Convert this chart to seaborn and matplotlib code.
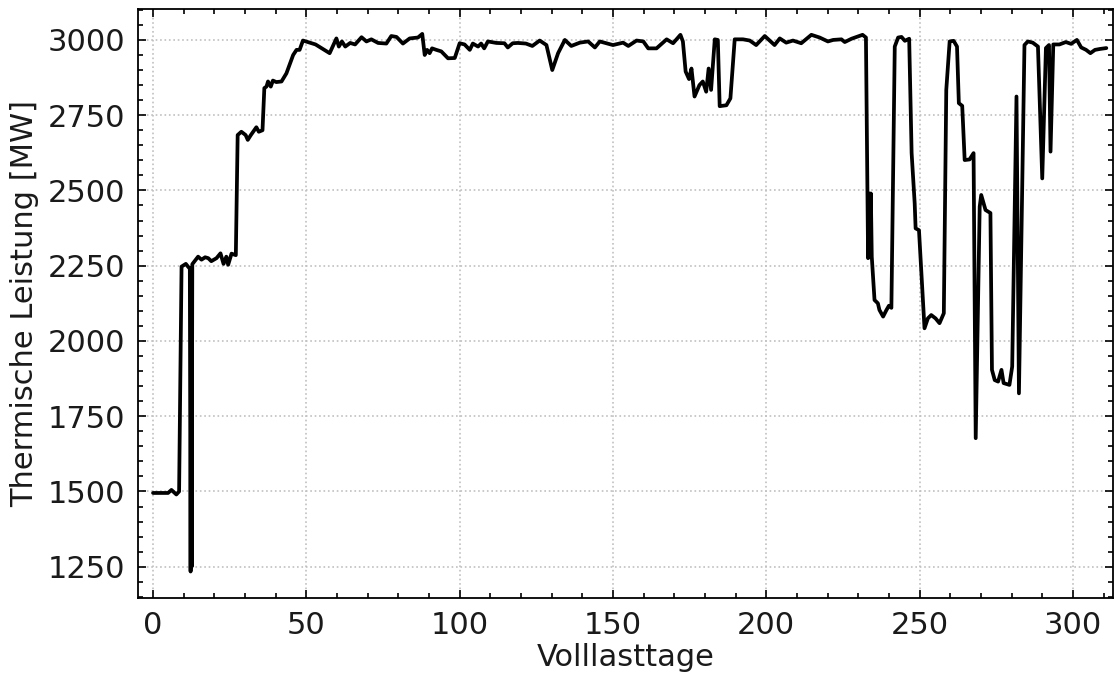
import numpy as np
import pandas as pd
import matplotlib
matplotlib.use("Agg")
import matplotlib.pyplot as plt
import seaborn as sns
from matplotlib.ticker import MultipleLocator

# Data (full-load days vs thermal power in MW)
tage = [
    0, 2, 4.9, 6, 7.6, 8.5, 9.3, 10.7, 11.4, 12.0, 12.25, 12.45, 12.6, 12.8,
    14.7, 15.8, 17, 18, 19, 20.7, 22, 23, 23.9, 24.5, 25.6, 27.0,
    27.6, 28.8, 30.2, 30.9, 31.9, 33.7, 34.5, 35.7, 36.3, 37.0, 37.5, 38.4, 39.1,
    40.2, 41.9, 43.5, 45.7, 46.8, 47.8, 48.9, 53, 57.6, 59.8, 60.6, 61.6, 62.7,
    64.3, 65.9, 68, 69.6, 71.2, 73.4, 76.1, 77.7, 79.4, 81.5, 83.7, 86.4, 87.8,
    88.6, 89.4, 90.2, 91, 92.4, 94, 96.2, 98.4, 100, 101.6, 103.3, 104.3, 106,
    107, 108, 109.2, 112, 114.6, 115.7, 117.3, 119, 121.6, 123.7, 126.1, 128.3,
    130.2, 132.1, 134.3, 136.4, 139.2, 141.9, 144.1, 145.7, 150, 153.3, 155,
    157.7, 159.9, 161.5, 164.2, 167.5, 169.6, 172, 172.8, 173.7, 174.8, 175.6,
    176.6, 178.2, 179.3, 180.4, 181.2, 182, 183.2, 184.2, 184.8, 187, 188.3,
    189.7, 192.4, 194.6, 196.7, 199.5, 202.7, 204.4, 206.5, 208.7, 211.4, 214.7,
    217.4, 220.1, 221.8, 224.5, 225.6, 227.8, 231.4, 232.5, 233.2, 233.5, 233.8,
    234.1, 234.4, 235.3, 236.4, 236.9, 238.1, 239.2, 240, 240.8, 241.9, 243,
    244.1, 245.2, 246.6, 247.4, 248.4, 248.7, 249.8, 250.6, 251.6, 252.7, 253.8,
    255.2, 256.5, 257.9, 258.7, 259.8, 261.1, 262.2, 262.8, 263.9, 264.7, 266.3,
    267.6, 268.3, 269.6, 270.1, 271.5, 272.3, 273.1, 273.6, 274.5, 275.6, 276.7,
    277.4, 279.3, 280.2, 281.6, 282.4, 284.2, 285.3, 286.9, 288.6, 290, 291.2,
    292.2, 292.7, 293.6, 295.6, 297.7, 299.4, 301.3, 302.7, 304.3, 305.7, 307.2,
    308.8, 310.9,
]
leistung = [
    1495, 1495, 1495, 1505, 1490, 1500, 2247, 2256, 2247, 2240, 1234, 2230, 1250, 2255,
    2280, 2270, 2278, 2275, 2265, 2275, 2291, 2256, 2280, 2253, 2290, 2285,
    2684, 2695, 2684, 2668, 2684, 2710, 2695, 2700, 2840, 2845, 2862, 2845, 2865,
    2860, 2862, 2889, 2950, 2967, 2967, 2998, 2985, 2956, 3005, 2978, 2995, 2978,
    2990, 2985, 3009, 2995, 3002, 2990, 2988, 3013, 3010, 2988, 3005, 3008, 3020,
    2950, 2967, 2956, 2972, 2967, 2962, 2939, 2940, 2989, 2985, 2967, 2988, 2978,
    2988, 2972, 2995, 2990, 2989, 2975, 2989, 2990, 2988, 2980, 2998, 2983,
    2900, 2956, 3000, 2980, 2991, 2995, 2975, 2995, 2983, 2991, 2980,
    2998, 2995, 2972, 2972, 3002, 2989, 3017, 2995, 2895, 2870, 2905,
    2812, 2850, 2862, 2828, 2905, 2834, 3002, 3000, 2780, 2783, 2806,
    3002, 3002, 2998, 2983, 3013, 2983, 3005, 2991, 2998, 2989, 3017,
    3008, 2995, 3000, 3002, 2993, 3004, 3017, 3008, 2275, 2490, 2280,
    2490, 2280, 2136, 2125, 2103, 2081, 2103, 2117, 2110, 2978, 3008,
    3010, 2997, 3004, 2624, 2457, 2374, 2368, 2225, 2042, 2075, 2086,
    2075, 2059, 2092, 2834, 2995, 2997, 2978, 2790, 2781, 2601, 2603,
    2624, 1677, 2446, 2485, 2435, 2430, 2425, 1904, 1870, 1865, 1904,
    1860, 1854, 1915, 2812, 1826, 2983, 2995, 2991, 2978, 2540, 2973,
    2983, 2629, 2985, 2985, 2993, 2987, 3000, 2975, 2967, 2956, 2967,
    2970, 2973,
]

df = pd.DataFrame({"Volllasttage": tage, "Leistung": leistung})

sns.set_style("ticks")
plt.rcParams["font.family"] = ["DejaVu Sans"]
plt.rcParams["font.size"] = 22

fig = plt.figure(figsize=(11.15, 6.74), dpi=100)
ax = fig.add_axes([0.1235, 0.1123, 0.8745, 0.874])

sns.lineplot(data=df, x="Volllasttage", y="Leistung", ax=ax,
             color="black", linewidth=2.7, estimator=None, sort=False)

ax.set_xlim(-5, 313)
ax.set_ylim(1145, 3102)
ax.xaxis.set_major_locator(MultipleLocator(50))
ax.xaxis.set_minor_locator(MultipleLocator(10))
ax.yaxis.set_major_locator(MultipleLocator(250))
ax.yaxis.set_minor_locator(MultipleLocator(50))

ax.tick_params(which="both", direction="in", top=True, right=True,
               labelsize=22, color="black", labelcolor="#1a1a1a", width=1.2)
ax.tick_params(which="major", length=6, pad=9)
ax.tick_params(which="minor", length=3.5)
for s in ax.spines.values():
    s.set_linewidth(1.3)
    s.set_color("black")

ax.grid(True, which="major", linestyle=":", color="#c0c0c0", linewidth=1.2)
ax.set_xlabel("Volllasttage", fontsize=22, labelpad=2, color="#1a1a1a")
ax.set_ylabel("Thermische Leistung [MW]", fontsize=22, labelpad=6, color="#1a1a1a")

fig.savefig("out.png", dpi=100)
